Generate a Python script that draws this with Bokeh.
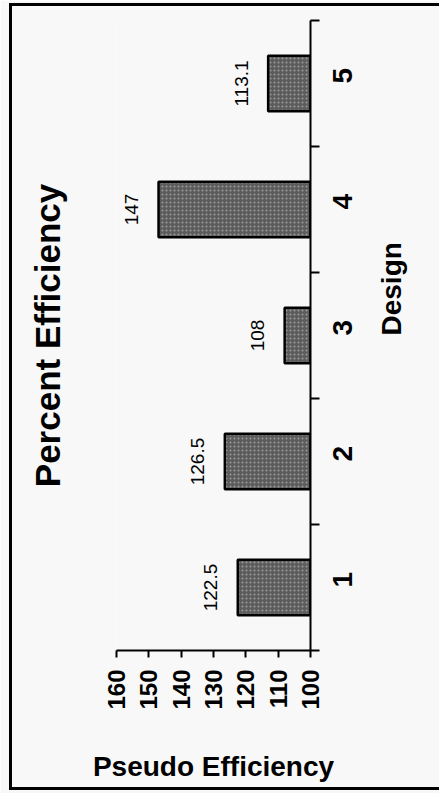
from math import pi

from bokeh.core.properties import value
from bokeh.embed import file_html
from bokeh.models import (ColumnDataSource, FixedTicker, InlineStyleSheet,
                          LabelSet, LinearAxis, Range1d)
from bokeh.plotting import figure
from bokeh.resources import INLINE

# Data
designs = [1, 2, 3, 4, 5]
efficiency = [122.5, 126.5, 108, 147, 113.1]
value_labels = ["122.5", "126.5", "108", "147", "113.1"]
value_ticks = [100, 110, 120, 130, 140, 150, 160]
baseline = 100

title_text = "Percent Efficiency"
design_text = "Design"
value_text = "Pseudo Efficiency"

FONT = "Liberation Sans"
BG = "#f8f8f8"

src = ColumnDataSource(dict(
    design=designs,
    eff=efficiency,
    label=value_labels,
    base=[baseline] * len(designs),
))

# Black page frame drawn around the chart (open on the right-hand side)
frame_css = InlineStyleSheet(css="""
:host { position: relative; }
:host::after {
  content: "";
  position: absolute;
  left: 9px; top: 3px; right: 0; bottom: 3px;
  border: 3px solid #000;
  border-right: none;
  pointer-events: none;
  z-index: 10;
}
""")

# The chart is laid on its side: values grow to the left, designs go up.
p = figure(
    width=439, height=793,
    output_backend="svg", toolbar_location=None,
    x_range=Range1d(max(value_ticks), min(value_ticks)),
    y_range=Range1d(designs[0] - 0.5, designs[-1] + 0.5),
    x_axis_type=None, y_axis_type=None,
    min_border_left=116, min_border_right=129,
    min_border_top=20, min_border_bottom=143,
    background_fill_color=BG, border_fill_color=BG,
    outline_line_color=None,
    stylesheets=[frame_css],
)

p.hbar(
    y="design", left="base", right="eff", height=0.44, source=src,
    fill_color="#5c5c5c", line_color="black", line_width=2.5,
    hatch_pattern="dot", hatch_color="#b4b4b4", hatch_scale=4,
    hatch_weight=1.2, hatch_alpha=0.7,
)

# Value axis (below); tick labels read upward
xaxis = LinearAxis(
    ticker=FixedTicker(ticks=value_ticks),
    axis_line_width=2, axis_line_color="black",
    major_tick_in=0, major_tick_out=7, major_tick_line_width=2,
    minor_tick_in=0, minor_tick_out=0,
    major_label_orientation=pi / 2, major_label_standoff=12,
    major_label_text_font=FONT, major_label_text_font_style="bold",
    major_label_text_font_size="24px", major_label_text_color="black",
    axis_label=value_text, axis_label_standoff=38,
    axis_label_text_font=FONT, axis_label_text_font_style="bold",
    axis_label_text_font_size="28px", axis_label_text_color="black",
)
p.add_layout(xaxis, "below")

# Design axis (right), tick marks between the bars
boundaries = [d - 0.5 for d in designs] + [designs[-1] + 0.5]
yaxis = LinearAxis(
    ticker=FixedTicker(ticks=designs, minor_ticks=boundaries),
    axis_line_width=2, axis_line_color="black",
    major_tick_in=0, major_tick_out=0,
    minor_tick_in=0, minor_tick_out=9, minor_tick_line_width=2,
    major_label_orientation=pi / 2, major_label_standoff=23,
    major_label_text_font=FONT, major_label_text_font_style="bold",
    major_label_text_font_size="28px", major_label_text_color="black",
    axis_label=design_text, axis_label_orientation=pi / 2,
    axis_label_standoff=27,
    axis_label_text_font=FONT, axis_label_text_font_style="bold",
    axis_label_text_font_size="28px", axis_label_text_color="black",
)
p.add_layout(yaxis, "right")

# Chart heading, carried by a bare axis on the left of the plot area
heading = LinearAxis(
    ticker=FixedTicker(ticks=[]),
    axis_line_color=None,
    major_tick_in=0, major_tick_out=0, minor_tick_in=0, minor_tick_out=0,
    major_label_standoff=0,
    axis_label=title_text, axis_label_standoff=50,
    axis_label_text_font=FONT, axis_label_text_font_style="bold",
    axis_label_text_font_size="35px", axis_label_text_color="black",
)
p.add_layout(heading, "left")

# Value labels beyond the end of each bar
p.add_layout(LabelSet(
    x="eff", y="design", text="label", source=src,
    angle=pi / 2, x_offset=-27,
    text_align="center", text_baseline="middle",
    text_font=value(FONT), text_font_size="19px", text_color="black",
))

open("out.html", "w").write(file_html(p, INLINE))
